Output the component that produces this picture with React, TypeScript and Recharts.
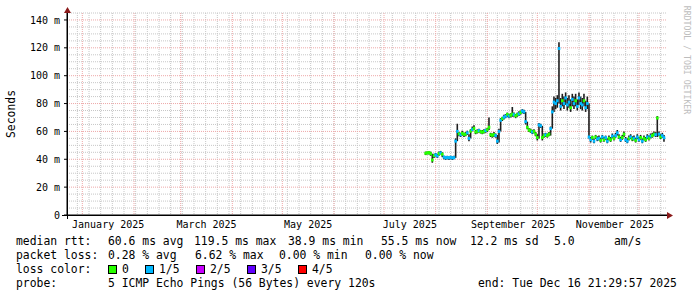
import React from "react";
import {
  ComposedChart,
  Bar,
  Line,
  XAxis,
  YAxis,
  CartesianGrid,
} from "recharts";

// days are counted from 1 Jan 2025; first sample is 25 Jul 2025
const FIRST_DAY = 206;
const X_START = -9.2;
const X_END = 350.8;

// median rtt in ms, one value per day
const median = [
  44.3, 44.6, 44.8, 44.0, 39.5, 42.6, 43.2, 42.4, 44.0, 44.6,
  43.6, 41.6, 41.0, 41.3, 41.0, 41.4, 41.0, 41.2, 53.0, 60.0,
  58.2, 57.6, 58.6, 57.8, 58.0, 59.0, 55.0, 60.2, 61.4, 62.2,
  59.6, 60.0, 60.6, 59.8, 59.4, 60.0, 60.6, 61.2, 63.0, 57.6,
  57.2, 57.8, 57.0, 53.0, 60.0, 68.0, 69.2, 70.2, 71.0, 72.2,
  71.0, 71.6, 72.4, 72.0, 71.2, 72.0, 72.6, 73.6, 74.6, 74.0,
  67.0, 63.0, 61.0, 60.4, 59.6, 60.0, 58.0, 55.6, 64.6, 64.0,
  55.6, 57.0, 57.6, 57.0, 58.0, 62.0, 74.0, 81.0, 80.0, 82.0,
  119.5, 78.0, 82.0, 80.0, 84.0, 79.0, 81.0, 77.0, 83.0, 80.0,
  82.0, 78.0, 84.0, 80.0, 79.0, 82.0, 77.0, 80.0, 56.0, 54.0,
  55.6, 53.0, 56.0, 54.6, 55.0, 53.6, 56.0, 54.0, 55.6, 53.0,
  55.0, 54.0, 56.6, 55.0, 57.0, 59.0, 56.0, 54.0, 55.6, 58.0,
  54.0, 53.0, 55.0, 56.0, 54.6, 55.0, 53.6, 56.0, 54.0, 55.6,
  53.0, 55.0, 54.0, 56.0, 55.0, 56.6, 57.0, 58.0, 57.6, 69.6,
  58.0, 56.0, 57.0, 55.5,
];

// smoke (ping spread) upper and lower edge, ms
const smokeHigh = [
  45.5, 45.5, 46, 45.5, 44, 44, 44.5, 44, 45.5, 46,
  45, 42.5, 42, 42.5, 42, 42.5, 42, 42.5, 55, 65.5,
  59.5, 59, 60.5, 59, 59.5, 60.5, 58, 61.5, 63.5, 64.5,
  61, 61.5, 62, 61, 61, 61.5, 62, 62.5, 70, 59,
  58.5, 59.5, 58.5, 57.5, 62, 69.5, 70.5, 72, 72.5, 73.5,
  72.5, 73, 77.5, 73.5, 72.5, 73.5, 74.5, 75, 76, 75.5,
  74, 67, 62.5, 62, 61, 61.5, 59.5, 58, 66, 65.5,
  64, 58.5, 59, 58.5, 59.5, 63.5, 78, 85, 84, 86,
  124, 84, 87, 85, 88, 84, 86, 83, 87, 85,
  87, 83, 88, 85, 84, 87, 82, 85, 80, 56,
  57, 55, 57.5, 56.5, 57, 55.5, 57.5, 56, 57, 55,
  57, 56, 58.5, 57, 59, 61, 58, 56, 57.5, 60,
  56, 55, 57, 58, 56.5, 57, 55.5, 58, 56, 57.5,
  55, 57, 56, 58, 57, 58.5, 59, 60, 59.5, 71,
  60, 58, 59, 57.5,
];

const smokeLow = [
  43, 43.5, 43.5, 42.5, 37.5, 41, 42, 41, 42.5, 43.5,
  41.5, 40, 39.5, 40, 39.5, 40, 39.5, 40, 41, 53,
  56.5, 56, 57, 56, 56.5, 57.5, 53, 55, 60, 61,
  58, 58.5, 59, 58.5, 58, 58.5, 59, 59.5, 61, 56,
  55.5, 56, 55.5, 51, 52, 60, 67.5, 68.5, 69.5, 70.5,
  69.5, 70, 70.5, 70.5, 69.5, 70.5, 71, 72, 73, 72.5,
  65, 61.5, 59.5, 59, 58, 58.5, 56.5, 53.5, 55, 62.5,
  53.5, 55.5, 56, 55.5, 56.5, 57, 62, 74, 76, 77,
  80, 75, 78, 76, 79, 75, 77, 74, 78, 76,
  78, 75, 79, 76, 75, 78, 74, 76, 55, 52,
  54, 51.5, 54.5, 53, 53.5, 52, 54.5, 52.5, 54, 51.5,
  53.5, 52.5, 55, 53.5, 55.5, 57, 54.5, 52.5, 54, 56,
  52.5, 51.5, 53.5, 54.5, 53, 53.5, 52, 54.5, 52.5, 54,
  51.5, 53.5, 52.5, 54.5, 53.5, 55, 55.5, 56.5, 56, 56,
  56.5, 54.5, 55.5, 52.5,
];

// lost pings out of 5
const loss = [
  0, 0, 0, 0, 0, 0, 1, 1, 0, 1,
  0, 1, 1, 1, 1, 1, 1, 1, 1, 1,
  0, 1, 0, 0, 0, 1, 1, 0, 1, 0,
  0, 0, 1, 0, 0, 0, 1, 0, 0, 0,
  0, 0, 1, 1, 1, 1, 0, 1, 1, 0,
  1, 0, 0, 1, 0, 0, 1, 0, 1, 1,
  1, 0, 0, 0, 1, 0, 0, 0, 1, 1,
  0, 0, 1, 0, 0, 1, 1, 1, 1, 1,
  1, 1, 0, 1, 1, 1, 1, 0, 1, 1,
  0, 1, 1, 1, 1, 0, 1, 1, 1, 1,
  0, 1, 0, 1, 1, 0, 1, 0, 1, 1,
  0, 0, 1, 0, 1, 1, 0, 1, 0, 0,
  1, 1, 0, 1, 0, 1, 0, 1, 1, 0,
  1, 0, 0, 1, 0, 1, 0, 0, 1, 0,
  1, 0, 1, 1,
];

const LOSS_COLORS = ["#26ff00", "#00b8ff", "#c800ff", "#6000ff", "#ff0000"];
const LOSS_LABELS = ["0", "1/5", "2/5", "3/5", "4/5"];

const MONTH_STARTS = [0, 31, 59, 90, 120, 151, 181, 212, 243, 273, 304, 334];
const LABEL_DAYS = [15.5, 74.5, 135.5, 196.5, 258.5, 319.5];
const MONTH_LABELS = [
  "January 2025",
  "March 2025",
  "May 2025",
  "July 2025",
  "September 2025",
  "November 2025",
];
const Y_TICKS = [0, 20, 40, 60, 80, 100, 120, 140];

const weekDays: number[] = [];
for (let d = -3; d < X_END; d += 7) weekDays.push(d);
const minorY: number[] = [];
for (let v = 5; v <= 145; v += 5) if (v % 20 !== 0) minorY.push(v);

const rows = median.map((m, i) => ({
  day: FIRST_DAY + i,
  median: m,
  smoke: [smokeLow[i], smokeHigh[i]],
  loss: loss[i],
}));

const MONO = "DejaVu Sans Mono";
const ARROW = "#8b1a1a";

const MedianDot = (props: any) => {
  const { cx, cy, payload, index } = props;
  if (cx == null || cy == null) return null;
  return (
    <rect
      key={`md-${index}`}
      x={cx - 1.3}
      y={cy - 1.5}
      width={2.6}
      height={3}
      fill={LOSS_COLORS[payload.loss]}
    />
  );
};

const txt = (left: number, top: number, s: string, size = 11.4) => (
  <div
    key={`${left}-${top}`}
    style={{
      position: "absolute",
      left,
      top,
      fontFamily: MONO,
      fontSize: size,
      lineHeight: "14px",
      whiteSpace: "pre",
      color: "#000",
    }}
  >
    {s}
  </div>
);

export default function App() {
  return (
    <div style={{ position: "absolute", left: 0, top: 0, width: 697, height: 297, background: "#fff" }}>
      <ComposedChart
        width={697}
        height={297}
        data={rows}
        margin={{ top: 13, right: 30, left: 0, bottom: 0 }}
      >
        <CartesianGrid
          stroke="#c7c7c7"
          strokeDasharray="1 1"
          horizontalValues={minorY}
          verticalValues={weekDays}
        />
        <CartesianGrid
          stroke="#eea8a8"
          strokeDasharray="1 1"
          horizontalValues={Y_TICKS.slice(1)}
          verticalValues={MONTH_STARTS}
        />
        <XAxis
          dataKey="day"
          type="number"
          domain={[X_START, X_END]}
          allowDataOverflow
          ticks={LABEL_DAYS}
          interval={0}
          tickFormatter={(v: number) => MONTH_LABELS[LABEL_DAYS.indexOf(v)] ?? ""}
          height={82}
          tickLine={false}
          tickSize={4}
          tickMargin={2}
          axisLine={{ stroke: "#000" }}
          tick={{ fontSize: 10, fontFamily: MONO, fill: "#000" }}
        />
        <YAxis
          type="number"
          domain={[0, 145]}
          allowDataOverflow
          ticks={Y_TICKS}
          interval={0}
          width={67}
          tickFormatter={(v: number) => (v === 0 ? "0" : `${v} m`)}
          tickSize={3}
          tickMargin={4}
          tickLine={{ stroke: "#000" }}
          axisLine={{ stroke: "#000" }}
          tick={{ fontSize: 10, fontFamily: MONO, fill: "#000" }}
        />
        <Bar dataKey="smoke" barSize={1.6} fill="#1e1e1e" isAnimationActive={false} />
        <Line
          dataKey="median"
          stroke="none"
          dot={MedianDot}
          activeDot={false}
          isAnimationActive={false}
        />
      </ComposedChart>

      <svg
        width={697}
        height={297}
        style={{ position: "absolute", left: 0, top: 0, pointerEvents: "none" }}
      >
        <line x1={62} y1={215.5} x2={668} y2={215.5} stroke="#000" />
        <line x1={67.5} y1={9} x2={67.5} y2={219} stroke="#000" />
        <path d="M667 212 L673 215.5 L667 219 Z" fill={ARROW} />
        <path d="M64 13 L67.5 7 L71 13 Z" fill={ARROW} />
      </svg>

      <div
        style={{
          position: "absolute",
          left: 11,
          top: 114,
          transform: "translate(-50%, -50%) rotate(-90deg)",
          fontFamily: MONO,
          fontSize: 11.4,
          whiteSpace: "nowrap",
          color: "#000",
        }}
      >
        Seconds
      </div>
      <div
        style={{
          position: "absolute",
          left: 687,
          top: 60,
          transform: "translate(-50%, -50%) rotate(90deg)",
          fontFamily: MONO,
          fontSize: 8.2,
          whiteSpace: "nowrap",
          color: "#bdbdbd",
        }}
      >
        RRDTOOL / TOBI OETIKER
      </div>

      {txt(16, 234, "median rtt:")}
      {txt(108, 234, "60.6 ms avg")}
      {txt(194, 234, "119.5 ms max")}
      {txt(288, 234, "38.9 ms min")}
      {txt(381, 234, "55.5 ms now")}
      {txt(470, 234, "12.2 ms sd")}
      {txt(554, 234, "5.0")}
      {txt(614, 234, "am/s")}

      {txt(16, 248, "packet loss:")}
      {txt(108, 248, "0.28 % avg")}
      {txt(195, 248, "6.62 % max")}
      {txt(279, 248, "0.00 % min")}
      {txt(365, 248, "0.00 % now")}

      {txt(16, 262, "loss color:")}
      {LOSS_COLORS.map((c, i) => (
        <React.Fragment key={c}>
          <div
            style={{
              position: "absolute",
              left: [108, 145, 196, 247, 298][i],
              top: 265,
              width: 7,
              height: 7,
              background: c,
              border: "1px solid #000",
            }}
          />
          {txt([122, 159, 210, 261, 312][i], 262, LOSS_LABELS[i])}
        </React.Fragment>
      ))}

      {txt(16, 276, "probe:")}
      {txt(108, 276, "5 ICMP Echo Pings (56 Bytes) every 120s")}
      {txt(478, 276, "end: Tue Dec 16 21:29:57 2025")}
    </div>
  );
}
